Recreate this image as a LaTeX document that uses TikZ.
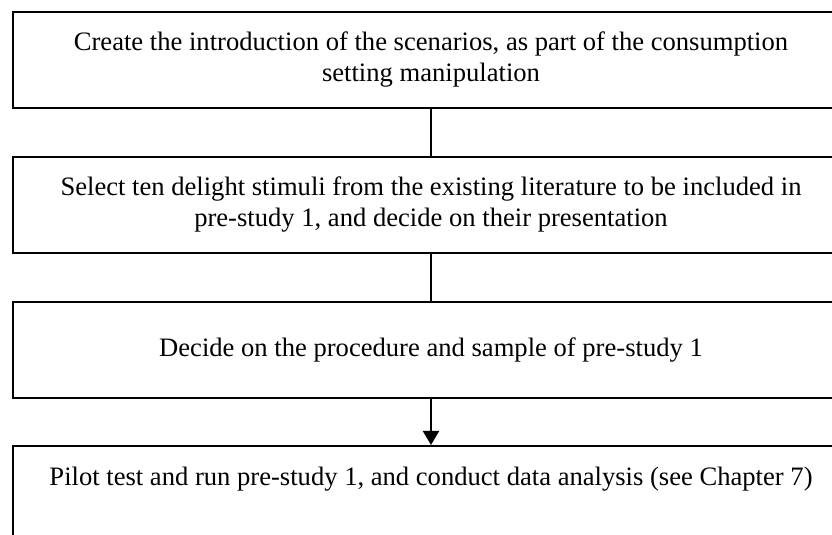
\documentclass[tikz,border=0pt]{standalone}
\usepackage{fontspec}
\setmainfont{Liberation Serif}
\usetikzlibrary{arrows.meta}
\tikzset{
	stagebox/.style={draw, line width=1pt, minimum width=418pt, minimum height=48pt, align=center, inner sep=0pt, font=\fontsize{13.3}{15.5}\selectfont},
	link/.style={line width=1pt}
}
\begin{document}
\begin{tikzpicture}[x=0.5pt, y=-0.5pt]
		\clip (0,0) rectangle (832,535);
		\node[stagebox] (intro) at (431,60) {Create the introduction of the scenarios, as part of the consumption\\setting manipulation};
		\node[stagebox] (stimuli) at (431,205) {Select ten delight stimuli from the existing literature to be included in\\pre-study 1, and decide on their presentation};
		\node[stagebox] (procedure) at (431,350) {Decide on the procedure and sample of pre-study 1};
		\node[stagebox, anchor=north, minimum height=0pt, inner ysep=12pt, text height=8pt, text depth=40pt] (pilot) at (431,445) {Pilot test and run pre-study 1, and conduct data analysis (see Chapter 7)};
		\draw [link] (intro.south) -- (stimuli.north);
		\draw [link] (stimuli.south) -- (procedure.north);
		\draw [link, -{Triangle[width=8pt,length=7pt]}] (procedure.south) -- (pilot.north);
		\end{tikzpicture}
\end{document}
